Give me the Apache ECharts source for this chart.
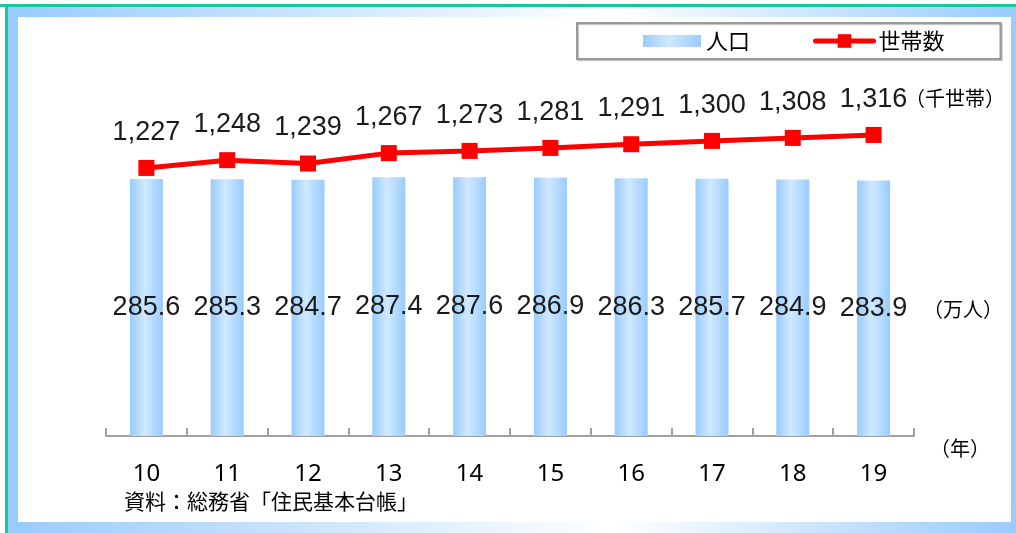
<!DOCTYPE html>
<html lang="ja">
<head>
<meta charset="UTF-8">
<title>人口と世帯数</title>
<script src="https://cdn.jsdelivr.net/npm/echarts@6/dist/echarts.min.js"></script>
<style>
  html, body { margin: 0; padding: 0; background: #fff; }
  #main { width: 1016px; height: 533px; }
</style>
</head>
<body>
<div id="main"></div>
<script type="text/javascript">
    // 年（平成）
    var years = ['10', '11', '12', '13', '14', '15', '16', '17', '18', '19'];
    // 人口（万人）
    var population = [285.6, 285.3, 284.7, 287.4, 287.6, 286.9, 286.3, 285.7, 284.9, 283.9];
    // 世帯数（千世帯）
    var households = [1227, 1248, 1239, 1267, 1273, 1281, 1291, 1300, 1308, 1316];

    var numFont = 'Liberation Sans';
    var jpFont = '"Noto Sans CJK JP", "Noto Sans", sans-serif';

    var barColor = new echarts.graphic.LinearGradient(0, 0, 1, 0, [
        { offset: 0, color: '#99cbff' },
        { offset: 0.45, color: '#cfe9ff' },
        { offset: 1, color: '#99cbff' }
    ]);
    var bandTop = new echarts.graphic.LinearGradient(0, 0, 1, 0, [
        { offset: 0, color: '#99cbff' },
        { offset: 0.6, color: '#ffffff' },
        { offset: 1, color: '#99cbff' }
    ]);
    var bandBottom = new echarts.graphic.LinearGradient(0, 0, 1, 0, [
        { offset: 0, color: '#99cbff' },
        { offset: 0.6, color: '#ffffff' },
        { offset: 1, color: '#99cbff' }
    ]);

    function comma(v) {
        return String(v).replace(/\B(?=(\d{3})+(?!\d))/g, ',');
    }

    var chart = echarts.init(document.getElementById('main'), null, { renderer: 'canvas' });

    var option = {
        backgroundColor: '#ffffff',
        animation: false,
        grid: { left: 106, right: 102, top: 76, bottom: 97 },
        legend: {
            left: 577,
            top: 23,
            padding: [7, 56, 7, 66],
            backgroundColor: '#ffffff',
            borderColor: '#9a9a9a',
            borderWidth: 2,
            borderRadius: 0,
            shadowColor: 'rgba(0,0,0,0.25)',
            shadowOffsetX: 1,
            shadowOffsetY: 1,
            shadowBlur: 1,
            itemWidth: 58,
            itemHeight: 17,
            itemGap: 63,
            lineStyle: { width: 5, cap: 'round' },
            textStyle: { fontFamily: jpFont, fontSize: 22, color: '#000' },
            data: [
                { name: '人口', icon: 'path://M0,0M0,2.5h58v12h-58zM58,17' },
                { name: '世帯数' }
            ]
        },
        xAxis: {
            type: 'category',
            data: years,
            boundaryGap: true,
            axisLine: { show: true, lineStyle: { color: '#a0a0a0', width: 2 } },
            axisTick: { show: true, inside: true, length: 8, interval: 0, lineStyle: { color: '#a0a0a0', width: 2 } },
            axisLabel: { margin: 26, fontFamily: 'Noto Sans', fontSize: 24, color: '#000' }
        },
        yAxis: [
            { type: 'value', min: 0, max: 400, show: false },
            { type: 'value', min: 504, max: 1475, show: false }
        ],
        series: [
            {
                name: '人口',
                type: 'bar',
                yAxisIndex: 0,
                barWidth: 33,
                data: population,
                itemStyle: { color: barColor },
                label: {
                    show: true,
                    position: 'inside',
                    fontFamily: numFont,
                    fontSize: 27,
                    color: '#1a1a1a',
                    formatter: function (p) { return p.value.toFixed(1); }
                }
            },
            {
                name: '世帯数',
                type: 'line',
                yAxisIndex: 1,
                data: households,
                symbol: 'rect',
                symbolSize: 16,
                lineStyle: { color: '#ff0000', width: 5 },
                itemStyle: { color: '#ff0000' },
                label: {
                    show: true,
                    position: 'top',
                    distance: 14,
                    fontFamily: numFont,
                    fontSize: 27,
                    color: '#1a1a1a',
                    formatter: function (p) { return comma(p.value); }
                }
            }
        ],
        graphic: [
            // frame
            { type: 'rect', left: 0, top: 4, shape: { width: 1016, height: 3 }, style: { fill: '#14c99b' }, z: 10 },
            { type: 'rect', left: 5, top: 4, shape: { width: 3, height: 529 }, style: { fill: '#14c99b' }, z: 10 },
            { type: 'rect', left: 8, top: 7, shape: { width: 1008, height: 10 }, style: { fill: bandTop }, z: 9 },
            { type: 'rect', left: 8, top: 7, shape: { width: 10, height: 526 }, style: { fill: '#99cbff' }, z: 9 },
            { type: 'rect', left: 1011, top: 7, shape: { width: 5, height: 526 }, style: { fill: '#99cbff' }, z: 9 },
            { type: 'rect', left: 8, top: 522, shape: { width: 1008, height: 11 }, style: { fill: bandBottom }, z: 9 },
            // unit texts
            { type: 'text', left: 905, top: 88, style: { text: '（千世帯）', font: '20px ' + jpFont, fill: '#000' } },
            { type: 'text', left: 923, top: 299, style: { text: '（万人）', font: '20px ' + jpFont, fill: '#000' } },
            { type: 'text', left: 930, top: 438, style: { text: '（年）', font: '20px ' + jpFont, fill: '#000' } },
            { type: 'text', left: 124, top: 491, style: { text: '資料：総務省「住民基本台帳」', font: '21px ' + jpFont, fill: '#000' } }
        ]
    };

    chart.setOption(option);
</script>
</body>
</html>
